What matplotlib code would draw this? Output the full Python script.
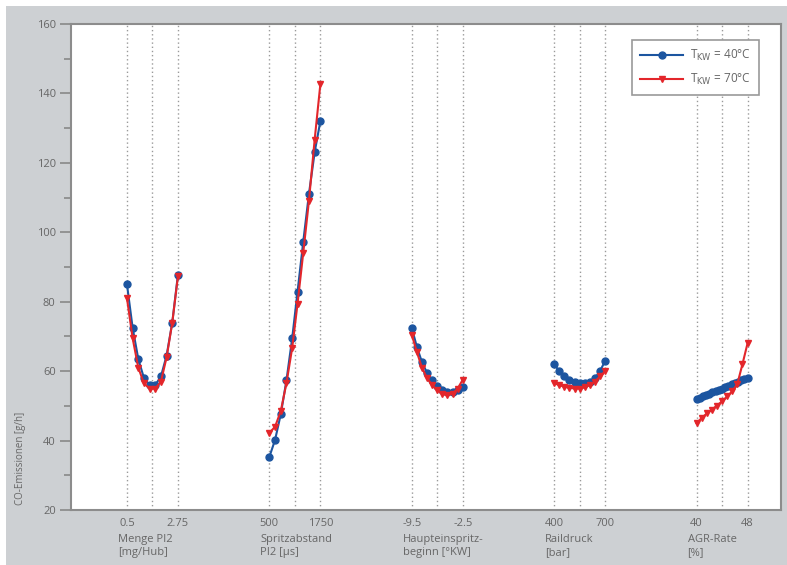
import matplotlib.pyplot as plt
from matplotlib.patches import Rectangle
import matplotlib.transforms as mtransforms

plt.rcParams['font.family'] = ['Open Sans', 'DejaVu Sans']

# Gruppen: Parameter, Achsenbereich (min, max), Referenzlinie in der Mitte
labels = ['Menge PI2\n[mg/Hub]', 'Spritzabstand\nPI2 [µs]', 'Haupteinspritz-\nbeginn [°KW]',
          'Raildruck\n[bar]', 'AGR-Rate\n[%]']
tick_lo = [0.5, 500, -9.5, 400, 40]
tick_hi = [2.75, 1750, -2.5, 700, 48]
tick_lo_txt = ['0.5', '500', '-9.5', '400', '40']
tick_hi_txt = ['2.75', '1750', '-2.5', '700', '48']
mid_ref = [1.6, 1125, -6.0, 550, 44]

# T_KW = 40 °C
x40 = [
    [0.5, 0.75, 1.0, 1.25, 1.5, 1.75, 2.0, 2.25, 2.5, 2.75],
    [500, 640, 780, 920, 1060, 1190, 1330, 1470, 1610, 1750],
    [-9.5, -8.8, -8.1, -7.4, -6.7, -6.0, -5.3, -4.6, -3.9, -3.2, -2.5],
    [400, 430, 460, 490, 520, 550, 580, 610, 640, 670, 700],
    [40, 40.5, 41, 41.5, 42, 42.5, 43, 43.5, 44, 44.5, 45, 45.5, 46, 46.5, 47, 47.5, 48],
]
y40 = [
    [85, 72.5, 63.5, 58, 56, 56, 58.5, 64.5, 74, 87.8],
    [35.3, 40.2, 47.6, 57.4, 69.5, 82.8, 97.2, 111, 123, 132],
    [72.5, 67, 62.6, 59.5, 57.4, 55.8, 54.6, 54, 54, 54.5, 55.4],
    [62, 60, 58.5, 57.5, 57, 56.5, 56.5, 57, 58, 60, 63],
    [52, 52.4, 52.8, 53.2, 53.5, 53.9, 54.2, 54.6, 55, 55.4, 55.8, 56.2, 56.6, 57, 57.4, 57.7, 58],
]

# T_KW = 70 °C
x70 = [
    [0.5, 0.75, 1.0, 1.25, 1.5, 1.75, 2.0, 2.25, 2.5, 2.75],
    [500, 640, 780, 920, 1060, 1190, 1330, 1470, 1610, 1750],
    [-9.5, -8.8, -8.1, -7.4, -6.7, -6.0, -5.3, -4.6, -3.9, -3.2, -2.5],
    [400, 430, 460, 490, 520, 550, 580, 610, 640, 670, 700],
    [40, 40.8, 41.6, 42.4, 43.2, 44, 44.8, 45.6, 46.4, 47.2, 48],
]
y70 = [
    [81, 69.5, 61, 56.5, 55, 55, 57, 64, 74, 87.3],
    [42.2, 44, 48.5, 56.6, 66.7, 79.3, 94, 109, 126.6, 142.6],
    [70.5, 65.5, 61, 58, 56, 54.5, 53.5, 53, 53.5, 55, 57.5],
    [56.5, 56, 55.5, 55.2, 55, 55, 55.3, 56, 57, 58.5, 60],
    [45, 46.5, 47.8, 48.9, 50.1, 51.3, 52.7, 54.2, 56.3, 62, 68],
]

half = 0.179  # halbe Gruppenbreite auf der gemeinsamen x-Achse


def pos(g, v):
    lo, hi = tick_lo[g], tick_hi[g]
    return (g + 1) + (v - (lo + hi) / 2) / (hi - lo) * 2 * half


grau = '#cdd0d3'
txt = '#666666'
blau = '#1c55a0'
rot = '#e3262b'

fig = plt.figure(figsize=(7.87, 5.65), dpi=100, facecolor='white')
fig.patches.append(Rectangle((6 / 787, 0), 1, (565 - 6) / 565, transform=fig.transFigure,
                             facecolor=grau, edgecolor='none', zorder=-10))
ax = fig.add_axes([71 / 787, 55 / 565, 710 / 787, 486 / 565])
ax.set_facecolor('white')

for g in range(5):
    for v in (tick_lo[g], mid_ref[g], tick_hi[g]):
        ax.axvline(pos(g, v), color='#9a9a9a', linestyle=(0, (1, 2)), linewidth=1.0, zorder=1)

for g in range(5):
    ax.plot([pos(g, v) for v in x40[g]], y40[g], color=blau, marker='o', markersize=5,
            linewidth=1.5, zorder=3, label='T$_{\\rm KW}$ = 40°C' if g == 0 else None)
for g in range(5):
    ax.plot([pos(g, v) for v in x70[g]], y70[g], color=rot, marker='v', markersize=5,
            linewidth=1.5, zorder=4, label='T$_{\\rm KW}$ = 70°C' if g == 0 else None)

ax.set_xlim(0.428, 5.414)
ax.set_ylim(20, 160)
ax.set_yticks(range(20, 161, 20))
ax.set_yticks(range(30, 160, 20), minor=True)

xt = []
xl = []
for g in range(5):
    xt += [pos(g, tick_lo[g]), pos(g, tick_hi[g])]
    xl += [tick_lo_txt[g], tick_hi_txt[g]]
ax.set_xticks(xt)
ax.set_xticklabels(xl)

ax.tick_params(axis='x', length=0, pad=6, labelsize=8, labelcolor=txt)
ax.tick_params(axis='y', which='major', length=8, width=1.2, color='#888888', labelsize=8,
               labelcolor=txt, pad=3)
ax.tick_params(axis='y', which='minor', length=5, width=1.2, color='#888888')
for s in ax.spines.values():
    s.set_color('#8c8c8c')
    s.set_linewidth(1.5)

for g in range(5):
    off = mtransforms.offset_copy(ax.get_xaxis_transform(), fig=fig, x=-9, y=-24, units='dots')
    ax.text(pos(g, tick_lo[g]), 0, labels[g], transform=off, ha='left', va='top',
            fontsize=8, color=txt, linespacing=1.25)

fig.text(21 / 787, (565 - 505) / 565, 'CO-Emissionen [g/h]', rotation=90, ha='center',
         va='bottom', fontsize=7, color=txt)

leg = ax.legend(loc='upper right', bbox_to_anchor=(0.9775, 0.979), fontsize=8.5, fancybox=False,
                edgecolor='#999999', framealpha=1, handlelength=3.6, borderpad=0.7,
                labelspacing=0.7, handletextpad=0.6)
leg.get_frame().set_linewidth(1.2)
for t in leg.get_texts():
    t.set_color(txt)

fig.savefig('out.png', dpi=100, facecolor=fig.get_facecolor())
